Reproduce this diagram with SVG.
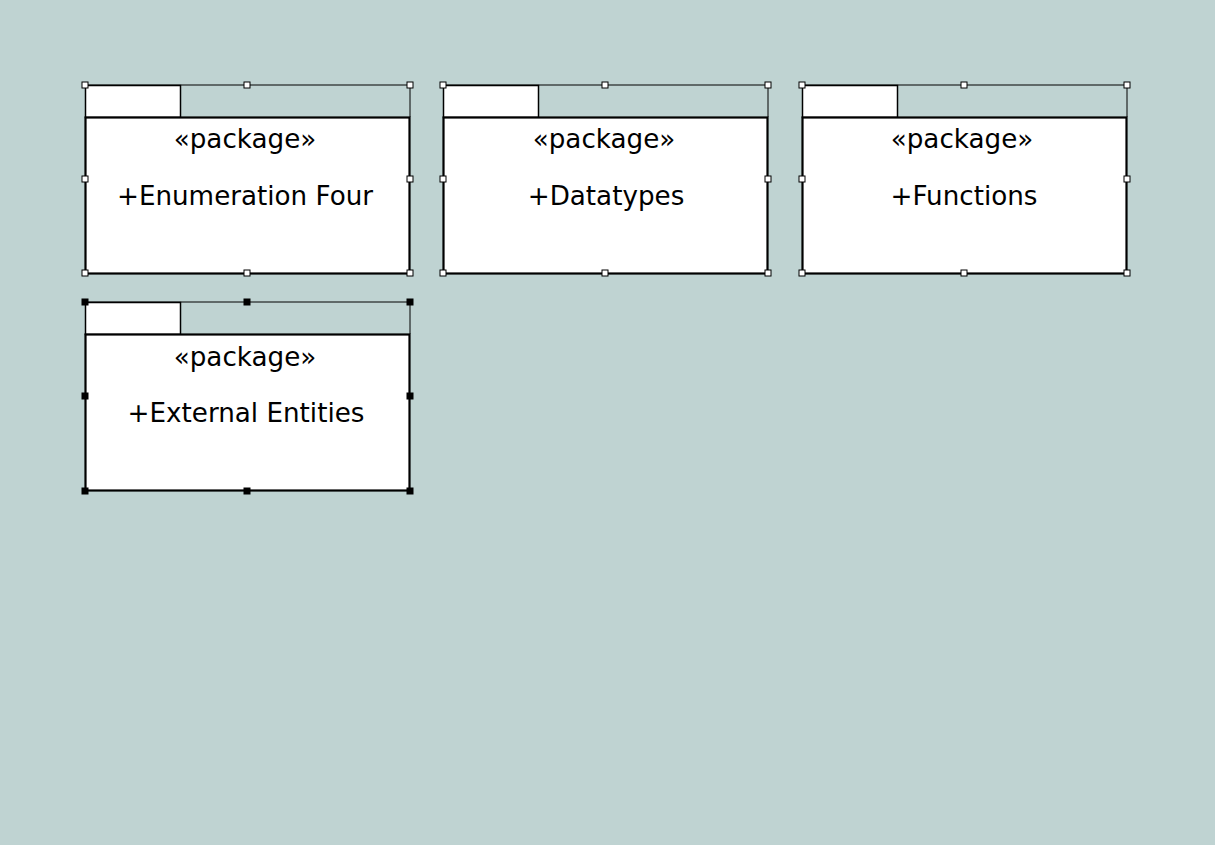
<svg xmlns="http://www.w3.org/2000/svg" width="1231" height="861" viewBox="0 0 1231 861">
<defs>
<style>
.bg{fill:#bfd3d2}
.frame{fill:none;stroke:#000;stroke-width:1}
.tab{fill:#fff;stroke:#000;stroke-width:1.5}
.body{fill:#fff;stroke:#000;stroke-width:2.2}
.h{fill:#fff;stroke:#000;stroke-width:1}
.hb{fill:#000;stroke:#000;stroke-width:1}
text{font-family:"DejaVu Sans",sans-serif;font-size:26.2px;fill:#000;text-anchor:middle}
</style>
</defs>
<rect x="0" y="0" width="1231" height="861" fill="#fff"/>
<rect class="bg" x="0" y="0" width="1215" height="845"/>
<g id="connectors"></g>
<g id="pkg-enumeration-four">
<line class="frame" x1="85" y1="85" x2="410" y2="85"/>
<line class="frame" x1="410" y1="85" x2="410" y2="117"/>
<rect class="tab" x="85.5" y="85.5" width="95" height="32"/>
<rect class="body" x="85.5" y="117.5" width="324" height="156"/>
<text x="245" y="148">«package»</text>
<text x="245" y="205">+Enumeration Four</text>
<rect class="h" x="82" y="82" width="6" height="6"/>
<rect class="h" x="244" y="82" width="6" height="6"/>
<rect class="h" x="407" y="82" width="6" height="6"/>
<rect class="h" x="82" y="176" width="6" height="6"/>
<rect class="h" x="407" y="176" width="6" height="6"/>
<rect class="h" x="82" y="270" width="6" height="6"/>
<rect class="h" x="244" y="270" width="6" height="6"/>
<rect class="h" x="407" y="270" width="6" height="6"/>
</g>
<g id="pkg-datatypes">
<line class="frame" x1="443" y1="85" x2="768" y2="85"/>
<line class="frame" x1="768" y1="85" x2="768" y2="117"/>
<rect class="tab" x="443.5" y="85.5" width="95" height="32"/>
<rect class="body" x="443.5" y="117.5" width="324" height="156"/>
<text x="604" y="148">«package»</text>
<text x="606" y="205">+Datatypes</text>
<rect class="h" x="440" y="82" width="6" height="6"/>
<rect class="h" x="602" y="82" width="6" height="6"/>
<rect class="h" x="765" y="82" width="6" height="6"/>
<rect class="h" x="440" y="176" width="6" height="6"/>
<rect class="h" x="765" y="176" width="6" height="6"/>
<rect class="h" x="440" y="270" width="6" height="6"/>
<rect class="h" x="602" y="270" width="6" height="6"/>
<rect class="h" x="765" y="270" width="6" height="6"/>
</g>
<g id="pkg-functions">
<line class="frame" x1="802" y1="85" x2="1127" y2="85"/>
<line class="frame" x1="1127" y1="85" x2="1127" y2="117"/>
<rect class="tab" x="802.5" y="85.5" width="95" height="32"/>
<rect class="body" x="802.5" y="117.5" width="324" height="156"/>
<text x="962" y="148">«package»</text>
<text x="964" y="205">+Functions</text>
<rect class="h" x="799" y="82" width="6" height="6"/>
<rect class="h" x="961" y="82" width="6" height="6"/>
<rect class="h" x="1124" y="82" width="6" height="6"/>
<rect class="h" x="799" y="176" width="6" height="6"/>
<rect class="h" x="1124" y="176" width="6" height="6"/>
<rect class="h" x="799" y="270" width="6" height="6"/>
<rect class="h" x="961" y="270" width="6" height="6"/>
<rect class="h" x="1124" y="270" width="6" height="6"/>
</g>
<g id="pkg-external-entities">
<line class="frame" x1="85" y1="302" x2="410" y2="302"/>
<line class="frame" x1="410" y1="302" x2="410" y2="334"/>
<rect class="tab" x="85.5" y="302.5" width="95" height="32"/>
<rect class="body" x="85.5" y="334.5" width="324" height="156"/>
<text x="245" y="366">«package»</text>
<text x="246" y="422">+External Entities</text>
<rect class="hb" x="82" y="299" width="6" height="6"/>
<rect class="hb" x="244" y="299" width="6" height="6"/>
<rect class="hb" x="407" y="299" width="6" height="6"/>
<rect class="hb" x="82" y="393" width="6" height="6"/>
<rect class="hb" x="407" y="393" width="6" height="6"/>
<rect class="hb" x="82" y="488" width="6" height="6"/>
<rect class="hb" x="244" y="488" width="6" height="6"/>
<rect class="hb" x="407" y="488" width="6" height="6"/>
</g>
</svg>
